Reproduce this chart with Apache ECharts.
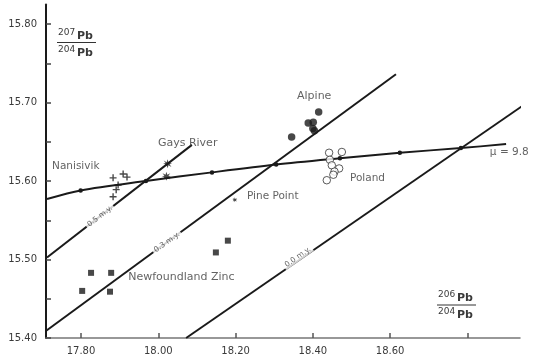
<!DOCTYPE html>
<html><head><meta charset="utf-8">
<script src="https://cdn.jsdelivr.net/npm/echarts@6/dist/echarts.min.js"></script>
<style>html,body{margin:0;padding:0;background:#fff}#c{width:541px;height:363px}</style>
</head><body><div id="c"></div>
<script>
// ---- data ----
const xTicks = [17.8, 18.0, 18.2, 18.4, 18.6, 18.8];
const xTickLabels = [17.8, 18.0, 18.2, 18.4, 18.6];
const yTicks = [15.40, 15.45, 15.50, 15.55, 15.60, 15.65, 15.70, 15.75, 15.80];
const yTickLabels = [15.40, 15.50, 15.60, 15.70, 15.80];

const nanisivik = [[17.883,15.604],[17.909,15.609],[17.919,15.605],[17.896,15.595],[17.891,15.589],[17.883,15.580]];
const gaysRiver = [[18.024,15.622],[18.021,15.606]];
const pinePoint = [[18.198,15.576]];
const alpine = [[18.345,15.656],[18.388,15.674],[18.401,15.675],[18.400,15.667],[18.415,15.688],[18.404,15.664]];
const poland = [[18.442,15.636],[18.475,15.637],[18.444,15.627],[18.449,15.620],[18.468,15.616],[18.456,15.612],[18.453,15.608],[18.436,15.601]];
const newfoundland = [[17.803,15.460],[17.826,15.483],[17.878,15.483],[17.875,15.459],[18.149,15.509],[18.180,15.524]];
const growthCurve = [[17.712,15.577],[17.799,15.588],[17.968,15.600],[18.139,15.611],[18.305,15.621],[18.470,15.629],[18.625,15.636],[18.783,15.642],[18.900,15.647]];
const iso05 = [[17.712,15.5025],[18.087,15.646]];
const iso03 = [[17.709,15.409],[18.615,15.736]];
const iso00 = [[18.072,15.400],[18.946,15.697]];

const isoLabelText = ['0.5 m.y.', '0.3 m.y.', '0.0 m.y.'];
const isoLabelPos = [[17.849,15.555],[18.0225,15.522],[18.361,15.503]];
const isoLabelAngle = [38, 36, 35];

const groupNames = ['Nanisivik', 'Gays River', 'Pine Point', 'Alpine', 'Poland', 'Newfoundland Zinc', 'μ = 9.8'];
const groupLabelPos = [[17.725,15.619],[17.999,15.648],[18.2295,15.580],[18.359,15.708],[18.496,15.604],[17.922,15.478],[18.858,15.636]];
const groupLabelSize = [10.5, 11, 10.5, 11, 10.5, 11, 10.5];

// ---- chart ----
const INK = '#1a1a1a';
const TXT = '#3a3a3a';
const FONT = 'DejaVu Sans';
const chart = echarts.init(document.getElementById('c'), null, {renderer: 'canvas'});

const crossPath = 'path://M4,0H6V4H10V6H6V10H4V6H0V4H4Z';
const starPath = 'path://M5,0L6,3.3L9.3,1.5L7.2,4.3L10,5L7.2,5.7L9.3,8.5L6,6.7L5,10L4,6.7L0.7,8.5L2.8,5.7L0,5L2.8,4.3L0.7,1.5L4,3.3Z';

function isoSeries(data) {
  return {type: 'line', data: data, symbol: 'none', clip: false, silent: true,
    lineStyle: {color: INK, width: 2}, z: 2};
}

const option = {
  animation: false,
  backgroundColor: '#fff',
  grid: {left: 46, right: 21, top: 4.4, bottom: 25, containLabel: false},
  xAxis: {
    type: 'value', min: 17.7094, max: 18.936,
    axisLine: {show: true, lineStyle: {color: '#777', width: 1.5}},
    axisTick: {show: true, inside: true, length: 5, customValues: xTicks, lineStyle: {color: '#555', width: 1.5}},
    axisLabel: {show: true, customValues: xTickLabels, formatter: v => v.toFixed(2),
      color: TXT, fontSize: 10, fontFamily: FONT, margin: 8},
    splitLine: {show: false}
  },
  yAxis: {
    type: 'value', min: 15.40, max: 15.825,
    axisLine: {show: true, lineStyle: {color: INK, width: 2}},
    axisTick: {show: true, inside: true, length: 5, customValues: yTicks, lineStyle: {color: '#444', width: 1.5}},
    axisLabel: {show: true, customValues: yTickLabels, formatter: v => v.toFixed(2),
      color: TXT, fontSize: 10, fontFamily: FONT, margin: 9},
    splitLine: {show: false}
  },
  series: [
    isoSeries(iso05), isoSeries(iso03), isoSeries(iso00),
    {type: 'line', data: growthCurve, smooth: 0.3, clip: false, silent: true,
      symbol: 'circle',
      symbolSize: (v, p) => (p.dataIndex === 0 || p.dataIndex === growthCurve.length - 1) ? 0 : 4.5,
      showAllSymbol: true,
      itemStyle: {color: INK}, lineStyle: {color: INK, width: 2}, z: 3},
    {type: 'scatter', data: nanisivik, symbol: crossPath, symbolSize: 7, itemStyle: {color: INK}, z: 5},
    {type: 'scatter', data: gaysRiver, symbol: starPath, symbolSize: 9, itemStyle: {color: INK}, z: 5},
    {type: 'scatter', data: pinePoint, symbol: starPath, symbolSize: 5, itemStyle: {color: INK}, z: 5},
    {type: 'scatter', data: alpine, symbol: 'circle', symbolSize: 7.5, itemStyle: {color: INK}, z: 5},
    {type: 'scatter', data: poland, symbol: 'circle', symbolSize: 7.5,
      itemStyle: {color: '#fff', borderColor: '#333', borderWidth: 1}, z: 5},
    {type: 'scatter', data: newfoundland, symbol: 'rect', symbolSize: 6, itemStyle: {color: INK}, z: 5},
    {type: 'scatter', silent: true, symbolSize: 0, z: 4,
      data: isoLabelPos.map((p, i) => ({value: p,
        label: {show: true, position: 'inside', formatter: isoLabelText[i], rotate: isoLabelAngle[i],
          fontSize: 7.5, fontFamily: FONT, color: TXT, backgroundColor: '#fff', padding: [0, 2]}}))},
    {type: 'scatter', silent: true, symbolSize: 0, z: 6,
      data: groupLabelPos.map((p, i) => ({value: p,
        label: {show: true, position: 'right', distance: 0, formatter: groupNames[i],
          fontSize: groupLabelSize[i], fontFamily: FONT, color: TXT}}))}
  ],
  graphic: [
    {type: 'text', left: 58, top: 28, style: {text: '207', fontSize: 9, fontFamily: FONT, fill: TXT}},
    {type: 'text', left: 77, top: 31, style: {text: 'Pb', fontSize: 11, fontWeight: 'bold', fontFamily: FONT, fill: TXT}},
    {type: 'line', shape: {x1: 57, y1: 42.5, x2: 96, y2: 42.5}, style: {stroke: '#333', lineWidth: 1}},
    {type: 'text', left: 58, top: 45, style: {text: '204', fontSize: 9, fontFamily: FONT, fill: TXT}},
    {type: 'text', left: 77, top: 48, style: {text: 'Pb', fontSize: 11, fontWeight: 'bold', fontFamily: FONT, fill: TXT}},

    {type: 'text', left: 438, top: 290, style: {text: '206', fontSize: 9, fontFamily: FONT, fill: TXT}},
    {type: 'text', left: 457, top: 293, style: {text: 'Pb', fontSize: 11, fontWeight: 'bold', fontFamily: FONT, fill: TXT}},
    {type: 'line', shape: {x1: 437, y1: 305, x2: 476, y2: 305}, style: {stroke: '#333', lineWidth: 1}},
    {type: 'text', left: 438, top: 307, style: {text: '204', fontSize: 9, fontFamily: FONT, fill: TXT}},
    {type: 'text', left: 457, top: 310, style: {text: 'Pb', fontSize: 11, fontWeight: 'bold', fontFamily: FONT, fill: TXT}}
  ]
};
chart.setOption(option);
</script>
</body></html>
